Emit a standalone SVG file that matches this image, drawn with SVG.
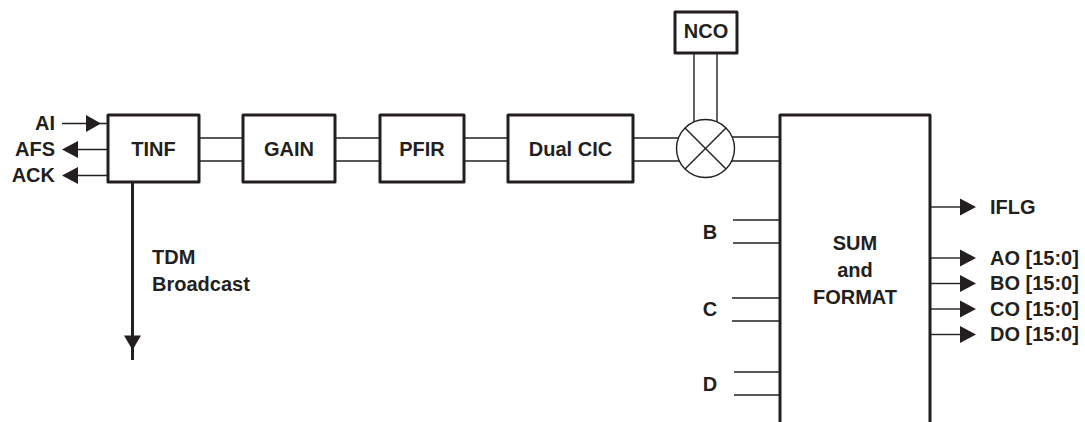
<svg xmlns="http://www.w3.org/2000/svg" width="1085" height="422" viewBox="0 0 1085 422">
<style>
text{font-family:"Liberation Sans",Arial,sans-serif;font-weight:bold;font-size:20px;fill:#231f20}
.m{text-anchor:middle}
.e{text-anchor:end}
.box{fill:#fff;stroke:#231f20;stroke-width:3;stroke-linejoin:round}
.ln{stroke:#231f20;stroke-width:1.4;fill:none}
.thick{stroke:#231f20;stroke-width:3;fill:none}
.ah{fill:#231f20}
</style>
<rect width="1085" height="422" fill="#fff"/>
<g id="connectors">
<line class="ln" x1="62" y1="123.5" x2="108" y2="123.5"/>
<polygon class="ah" points="101,123.5 86,115 86,132"/>
<line class="ln" x1="70" y1="149.5" x2="108" y2="149.5"/>
<polygon class="ah" points="62,149.5 78,141 78,158"/>
<line class="ln" x1="70" y1="175.5" x2="108" y2="175.5"/>
<polygon class="ah" points="62,175.5 78,167 78,184"/>
<line class="ln" x1="199" y1="138" x2="243" y2="138"/>
<line class="ln" x1="199" y1="161" x2="243" y2="161"/>
<line class="ln" x1="335" y1="138" x2="380" y2="138"/>
<line class="ln" x1="335" y1="161" x2="380" y2="161"/>
<line class="ln" x1="464" y1="138" x2="508" y2="138"/>
<line class="ln" x1="464" y1="161" x2="508" y2="161"/>
<line class="ln" x1="633" y1="138" x2="700" y2="138"/>
<line class="ln" x1="633" y1="161" x2="700" y2="161"/>
<line class="ln" x1="710" y1="137" x2="780" y2="137"/>
<line class="ln" x1="710" y1="161" x2="780" y2="161"/>
<line class="ln" x1="694" y1="53" x2="694" y2="140"/>
<line class="ln" x1="717" y1="53" x2="717" y2="140"/>
<line class="thick" x1="132.5" y1="182" x2="132.5" y2="360"/>
<polygon class="ah" points="132.5,350 124,335.5 141,335.5"/>
<line class="ln" x1="733" y1="220" x2="780" y2="220"/>
<line class="ln" x1="733" y1="243" x2="780" y2="243"/>
<line class="ln" x1="732" y1="298" x2="780" y2="298"/>
<line class="ln" x1="732" y1="321" x2="780" y2="321"/>
<line class="ln" x1="734" y1="372" x2="780" y2="372"/>
<line class="ln" x1="734" y1="395" x2="780" y2="395"/>
<line class="ln" x1="930" y1="207" x2="962" y2="207"/>
<polygon class="ah" points="976,207 960,198.5 960,215.5"/>
<line class="ln" x1="930" y1="258" x2="962" y2="258"/>
<polygon class="ah" points="976,258 960,249.5 960,266.5"/>
<line class="ln" x1="930" y1="283.5" x2="962" y2="283.5"/>
<polygon class="ah" points="976,283.5 960,275 960,292"/>
<line class="ln" x1="930" y1="309" x2="962" y2="309"/>
<polygon class="ah" points="976,309 960,300.5 960,317.5"/>
<line class="ln" x1="930" y1="334.5" x2="962" y2="334.5"/>
<polygon class="ah" points="976,334.5 960,326 960,343"/>
</g>
<g id="labels">
<text class="e" x="55" y="130">AI</text>
<text class="e" x="55" y="156">AFS</text>
<text class="e" x="55" y="182">ACK</text>
<text x="152" y="264">TDM</text>
<text x="152" y="290.5">Broadcast</text>
<text class="m" x="710" y="238.5">B</text>
<text class="m" x="710" y="315.5">C</text>
<text class="m" x="710" y="390.5">D</text>
<text x="990" y="213.5">IFLG</text>
<text x="990" y="264.5">AO [15:0]</text>
<text x="990" y="290">BO [15:0]</text>
<text x="990" y="315.5">CO [15:0]</text>
<text x="990" y="341">DO [15:0]</text>
</g>
<g id="tinf"><rect class="box" x="108" y="115" width="91" height="67"/><text class="m" x="153.5" y="155.5">TINF</text></g>
<g id="gain"><rect class="box" x="243" y="115" width="92" height="67"/><text class="m" x="289" y="156">GAIN</text></g>
<g id="pfir"><rect class="box" x="380" y="115" width="84" height="67"/><text class="m" x="422" y="155.5">PFIR</text></g>
<g id="dualcic"><rect class="box" x="508" y="115" width="125" height="67"/><text class="m" x="570.5" y="155.5">Dual CIC</text></g>
<g id="nco"><rect class="box" x="675" y="12" width="62" height="41"/><text class="m" x="706" y="38">NCO</text></g>
<g id="mixer"><circle cx="705.5" cy="148.5" r="29" fill="#fff" stroke="#231f20" stroke-width="1.4"/><line class="ln" x1="685" y1="128" x2="726" y2="169"/><line class="ln" x1="726" y1="128" x2="685" y2="169"/></g>
<g id="sum"><rect class="box" x="780" y="115" width="150" height="330"/><text class="m" x="855" y="250">SUM</text><text class="m" x="855" y="277">and</text><text class="m" x="855" y="303.5">FORMAT</text></g>
</svg>
